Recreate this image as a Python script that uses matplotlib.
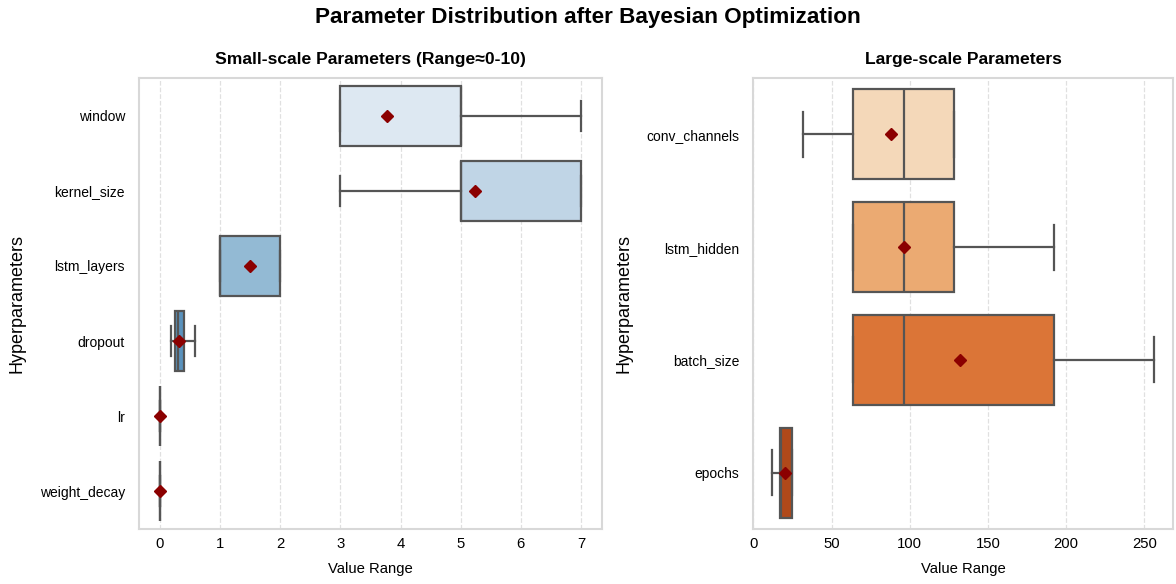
import matplotlib
matplotlib.use("Agg")
import matplotlib.pyplot as plt

plt.rcParams['font.family'] = ['Liberation Sans', 'DejaVu Sans']

# small-scale parameters (box stats)
small_names = ['window', 'kernel_size', 'lstm_layers', 'dropout', 'lr', 'weight_decay']
small_q1 = [3, 5, 1, 0.25, 0.001, 0.0001]
small_med = [5, 5, 1, 0.3, 0.001, 0.0001]
small_q3 = [5, 7, 2, 0.4, 0.001, 0.0001]
small_lo = [3, 3, 1, 0.18, 0.001, 0.0001]
small_hi = [7, 7, 2, 0.58, 0.001, 0.0001]
small_mean = [3.78, 5.24, 1.5, 0.32, 0.001, 0.0001]
small_colors = ['#dde8f2', '#c0d5e6', '#93bad4', '#5a92bd', '#3a78ab', '#1f5590']

# large-scale parameters
large_names = ['conv_channels', 'lstm_hidden', 'batch_size', 'epochs']
large_q1 = [64, 64, 64, 17]
large_med = [96, 96, 96, 18]
large_q3 = [128, 128, 192, 25]
large_lo = [32, 64, 64, 12]
large_hi = [128, 192, 256, 25]
large_mean = [88, 96, 132, 20]
large_colors = ['#f4d8b9', '#ebaa72', '#db7537', '#b0491a']

fig = plt.figure(figsize=(11.76, 5.84), dpi=100)
ax1 = fig.add_axes([0.1182, 0.0942, 0.3937, 0.7722])
ax2 = fig.add_axes([0.6403, 0.0942, 0.3571, 0.7722])


def draw_boxes(ax, names, q1, med, q3, lo, hi, mean, colors, title):
    stats = []
    for i in range(len(names)):
        stats.append({'label': names[i], 'q1': q1[i], 'med': med[i], 'q3': q3[i],
                      'whislo': lo[i], 'whishi': hi[i], 'mean': mean[i], 'fliers': []})
    line = dict(color='#555555', linewidth=1.6)
    bp = ax.bxp(stats, positions=range(len(names)), widths=0.8, vert=False,
                patch_artist=True, showmeans=True,
                boxprops=dict(edgecolor='#555555', linewidth=1.6),
                whiskerprops=line, capprops=line, medianprops=line,
                meanprops=dict(marker='D', markerfacecolor='darkred',
                               markeredgecolor='darkred', markersize=6.5))
    for patch, c in zip(bp['boxes'], colors):
        patch.set_facecolor(c)
    ax.set_ylim(len(names) - 0.5, -0.5)
    ax.grid(axis='x', color='#e0e0e0', linestyle='--', linewidth=0.9)
    ax.set_axisbelow(True)
    for s in ax.spines.values():
        s.set_color('#d8d8d8')
        s.set_linewidth(1.5)
    ax.tick_params(axis='both', length=0)
    ax.tick_params(axis='y', labelsize=10, pad=10)
    ax.tick_params(axis='x', labelsize=10.7, pad=6)
    ax.set_xlabel('Value Range', fontsize=10.7, labelpad=8)
    ax.set_ylabel('Hyperparameters', fontsize=13, labelpad=10)
    ax.set_title(title, fontsize=12.6, fontweight='bold', pad=10)


draw_boxes(ax1, small_names, small_q1, small_med, small_q3, small_lo, small_hi,
           small_mean, small_colors, 'Small-scale Parameters (Range≈0-10)')
draw_boxes(ax2, large_names, large_q1, large_med, large_q3, large_lo, large_hi,
           large_mean, large_colors, 'Large-scale Parameters')
ax1.set_xticks(range(0, 8))

fig.suptitle('Parameter Distribution after Bayesian Optimization', fontsize=16.2,
             fontweight='bold', y=0.988)

fig.savefig('out.png', dpi=100)
